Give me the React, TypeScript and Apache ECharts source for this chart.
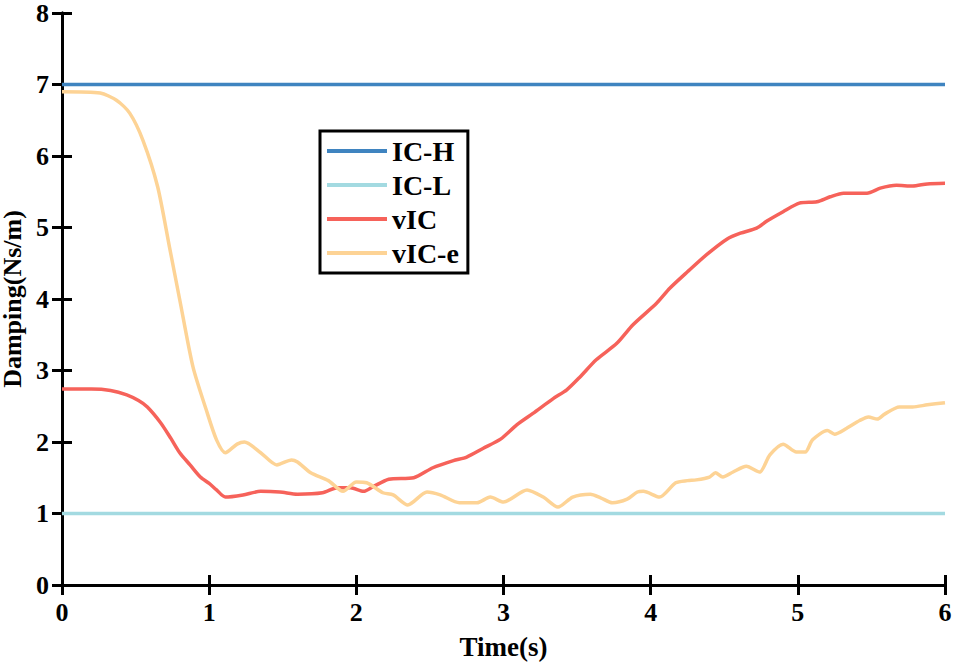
import React, { useEffect, useRef } from "react";
import * as echarts from "echarts";

const xTicks = [0, 1, 2, 3, 4, 5, 6];
const yTicks = [0, 1, 2, 3, 4, 5, 6, 7, 8];
const seriesNames = ["IC-H", "IC-L", "vIC", "vIC-e"];
const seriesColors = ["#3f84c0", "#a3dae1", "#f6625a", "#fdd395"];

const icHT = [0, 6];
const icHV = [7, 7];
const icLT = [0, 6];
const icLV = [1, 1];

const vicT = [0, 0.2, 0.33, 0.44, 0.52, 0.58, 0.67, 0.74, 0.8, 0.87, 0.94, 1.0, 1.05, 1.11, 1.23, 1.35, 1.48, 1.6, 1.77, 1.87, 1.96, 2.05, 2.11, 2.22, 2.39, 2.52, 2.66, 2.75, 2.86, 2.98, 3.09, 3.2, 3.34, 3.43, 3.52, 3.63, 3.77, 3.88, 4.04, 4.13, 4.25, 4.38, 4.52, 4.61, 4.72, 4.79, 4.9, 5.01, 5.13, 5.22, 5.31, 5.47, 5.56, 5.67, 5.78, 5.88, 6.0];
const vicV = [2.74, 2.74, 2.72, 2.66, 2.58, 2.49, 2.27, 2.05, 1.85, 1.68, 1.51, 1.42, 1.33, 1.23, 1.26, 1.31, 1.3, 1.27, 1.29, 1.36, 1.36, 1.31, 1.37, 1.48, 1.5, 1.64, 1.74, 1.79, 1.91, 2.04, 2.24, 2.4, 2.61, 2.73, 2.91, 3.15, 3.38, 3.64, 3.94, 4.15, 4.38, 4.62, 4.84, 4.92, 4.99, 5.09, 5.22, 5.34, 5.36, 5.43, 5.48, 5.48, 5.55, 5.59, 5.58, 5.61, 5.62];

const viceT = [0, 0.26, 0.37, 0.46, 0.55, 0.65, 0.73, 0.8, 0.89, 0.98, 1.05, 1.11, 1.19, 1.24, 1.35, 1.46, 1.56, 1.6, 1.69, 1.81, 1.91, 2.0, 2.07, 2.18, 2.25, 2.35, 2.48, 2.57, 2.7, 2.82, 2.91, 3.0, 3.16, 3.27, 3.37, 3.47, 3.59, 3.66, 3.74, 3.84, 3.91, 3.95, 4.06, 4.17, 4.25, 4.31, 4.4, 4.44, 4.49, 4.56, 4.65, 4.74, 4.81, 4.9, 4.99, 5.05, 5.1, 5.2, 5.25, 5.33, 5.42, 5.48, 5.54, 5.59, 5.69, 5.78, 5.88, 6.0];
const viceV = [6.9, 6.88, 6.78, 6.6, 6.22, 5.57, 4.73, 3.99, 3.05, 2.45, 2.03, 1.85, 1.97, 2.0, 1.85, 1.68, 1.75, 1.72, 1.57, 1.46, 1.31, 1.44, 1.43, 1.29, 1.26, 1.12, 1.3, 1.26, 1.15, 1.15, 1.23, 1.16, 1.33, 1.23, 1.09, 1.23, 1.27, 1.22, 1.15, 1.2, 1.3, 1.31, 1.23, 1.43, 1.46, 1.47, 1.51, 1.57, 1.51, 1.58, 1.66, 1.58, 1.82, 1.97, 1.86, 1.86, 2.03, 2.16, 2.11, 2.19, 2.3, 2.35, 2.32, 2.39, 2.49, 2.49, 2.52, 2.55];

const xs = [icHT, icLT, vicT, viceT];
const ys = [icHV, icLV, vicV, viceV];

const FONT = "Liberation Serif";

export default function App() {
  const ref = useRef<HTMLDivElement>(null);
  useEffect(() => {
    if (!ref.current) return;
    const chart = echarts.init(ref.current, undefined, { renderer: "svg" });
    const axisLine = { show: true, lineStyle: { color: "#000", width: 3 } };
    const axisTick = { show: true, inside: true, length: 10, lineStyle: { color: "#000", width: 3 } };
    const labelStyle = { color: "#000", fontFamily: FONT, fontWeight: "bold" as const, fontSize: 26 };
    chart.setOption({
      animation: false,
      backgroundColor: "#fff",
      textStyle: { fontFamily: FONT },
      grid: { left: 62, right: 12, top: 13, bottom: 84, outerBoundsMode: "none", containLabel: false },
      legend: {
        left: 320,
        top: 131,
        orient: "vertical",
        itemWidth: 60,
        itemHeight: 4,
        itemGap: 0,
        icon: "rect",
        padding: [3, 9, 3, 7],
        borderColor: "#000",
        borderWidth: 3,
        backgroundColor: "#fff",
        data: seriesNames,
        textStyle: { ...labelStyle, fontSize: 28, lineHeight: 34, padding: [0, 0, 0, 0] },
      },
      xAxis: [
        {
          type: "value",
          min: 0,
          max: 6,
          interval: 1,
          position: "bottom",
          axisLine,
          axisTick,
          splitLine: { show: false },
          axisLabel: { ...labelStyle, margin: 14, formatter: (v: number) => (xTicks.includes(v) ? String(v) : "") },
          name: "Time(s)",
          nameLocation: "middle",
          nameGap: 62,
          nameTextStyle: { color: "#000", fontFamily: FONT, fontWeight: "bold", fontSize: 27, verticalAlign: "middle" },
        },
        {
          type: "value",
          min: 0,
          max: 6,
          interval: 1,
          position: "top",
          axisLine,
          axisTick,
          splitLine: { show: false },
          axisLabel: { show: false },
        },
      ],
      yAxis: [
        {
          type: "value",
          min: 0,
          max: 8,
          interval: 1,
          position: "left",
          axisLine,
          axisTick,
          splitLine: { show: false },
          axisLabel: { ...labelStyle, margin: 13, formatter: (v: number) => (yTicks.includes(v) ? String(v) : "") },
          name: "Damping(Ns/m)",
          nameLocation: "middle",
          nameGap: 41,
          nameTextStyle: { color: "#000", fontFamily: FONT, fontWeight: "bold", fontSize: 26, verticalAlign: "middle" },
        },
        {
          type: "value",
          min: 0,
          max: 8,
          interval: 1,
          position: "right",
          axisLine,
          axisTick,
          splitLine: { show: false },
          axisLabel: { show: false },
        },
      ],
      series: seriesNames.map((name, i) => ({
        name,
        type: "line",
        xAxisIndex: 0,
        yAxisIndex: 0,
        showSymbol: false,
        symbol: "none",
        smooth: 0.25,
        color: seriesColors[i],
        lineStyle: { color: seriesColors[i], width: 3.5 },
        data: xs[i].map((t, j) => [t, ys[i][j]]),
        z: 2 + i,
      })),
    });
    return () => chart.dispose();
  }, []);
  return (
    <div
      ref={ref}
      style={{ position: "fixed", left: 0, top: 0, width: 957, height: 669, background: "#fff" }}
    />
  );
}
